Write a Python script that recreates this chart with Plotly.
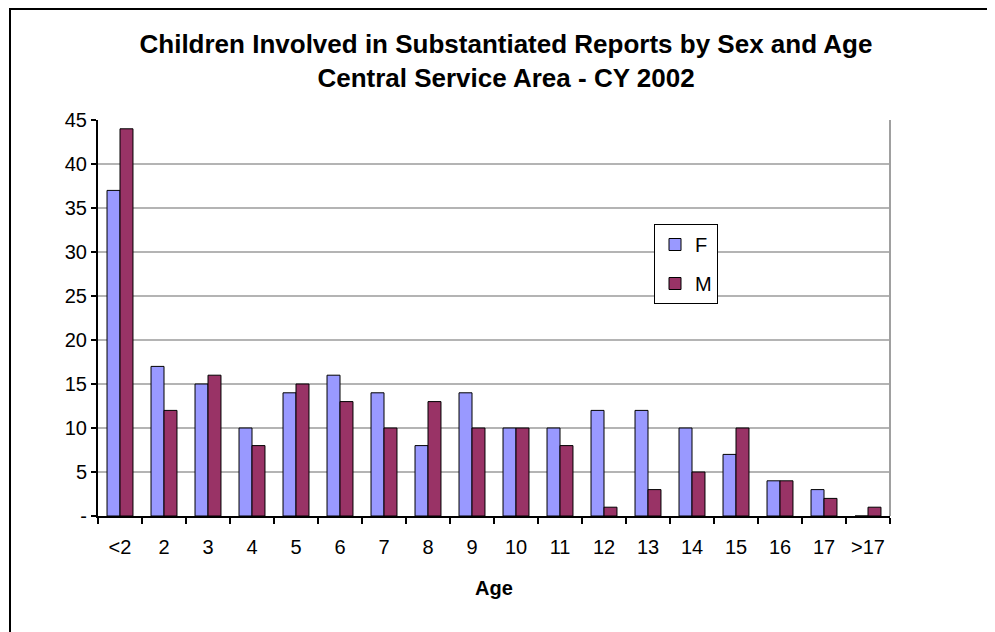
import plotly.graph_objects as go

ages = ["<2", "2", "3", "4", "5", "6", "7", "8", "9", "10", "11", "12", "13", "14", "15", "16", "17", ">17"]
female = [37, 17, 15, 10, 14, 16, 14, 8, 14, 10, 10, 12, 12, 10, 7, 4, 3, 0]
male = [44, 12, 16, 8, 15, 13, 10, 13, 10, 10, 8, 1, 3, 5, 10, 4, 2, 1]
y_ticks = [0, 5, 10, 15, 20, 25, 30, 35, 40, 45]
y_tick_text = ["-", "5", "10", "15", "20", "25", "30", "35", "40", "45"]

FONT = "Liberation Sans, Arial, sans-serif"

# page has an 8px body margin; figure occupies the rest
OFF = 8
W, H = 995 - OFF, 632 - OFF
# plot area in page coordinates
PL, PR, PT, PB = 98, 890, 120, 516
L, R, T, B = PL - OFF, W - (PR - OFF), PT - OFF, H - (PB - OFF)
pw, ph = W - L - R, H - T - B


def px(x):
    return (x - OFF - L) / pw


def py(y):
    return (H - B - (y - OFF)) / ph


fig = go.Figure()
fig.add_trace(go.Bar(x=ages, y=female, name="F", legendgroup="F",
                     marker=dict(color="#9999FF", line=dict(color="#000000", width=1))))
fig.add_trace(go.Bar(x=ages, y=male, name="M", legendgroup="M",
                     marker=dict(color="#993366", line=dict(color="#000000", width=1))))

fig.update_layout(
    width=W, height=H,
    margin=dict(l=L, r=R, t=T, b=B),
    paper_bgcolor="white", plot_bgcolor="white",
    barmode="group", bargap=0.41, bargroupgap=0,
    font=dict(family=FONT, size=20, color="#000000"),
    title=dict(
        text="<b>Children Involved in Substantiated Reports by Sex and Age<br>Central Service Area - CY 2002</b>",
        x=px(506), xanchor="center", xref="paper", y=1 - (53 - OFF) / H, yanchor="middle",
        font=dict(family=FONT, size=26, color="#000000"),
    ),
    xaxis=dict(
        type="category",
        title=dict(text="<b>Age</b>", font=dict(family=FONT, size=20), standoff=24),
        showline=True, linecolor="#000000", linewidth=2,
        ticks="outside", tickson="boundaries", ticklen=6, tickcolor="#000000", tickwidth=1.5,
        showgrid=False, tickfont=dict(size=20), ticklabelstandoff=12,
    ),
    yaxis=dict(
        range=[0, 45],
        tickvals=y_ticks, ticktext=y_tick_text,
        showline=True, linecolor="#000000", linewidth=2,
        ticks="outside", ticklen=5, tickcolor="#000000", tickwidth=1.5,
        showgrid=True, gridcolor="#b4b4b4", gridwidth=1.5,
        zeroline=False, tickfont=dict(size=20),
    ),
    legend=dict(
        x=px(654), y=py(224), xanchor="left", yanchor="top",
        bordercolor="#000000", borderwidth=1, bgcolor="white",
        font=dict(size=20), itemwidth=30, tracegroupgap=10,
        traceorder="grouped",
    ),
    showlegend=True,
    shapes=[
        dict(type="line", xref="paper", yref="paper", x0=1, x1=1, y0=0, y1=1,
             line=dict(color="#a0a0a0", width=2)),
        dict(type="rect", xref="paper", yref="paper",
             x0=px(10), x1=px(993), y0=py(650), y1=py(9),
             line=dict(color="#000000", width=2), fillcolor="rgba(0,0,0,0)", layer="below"),
    ],
)

fig.write_html("out.html")
